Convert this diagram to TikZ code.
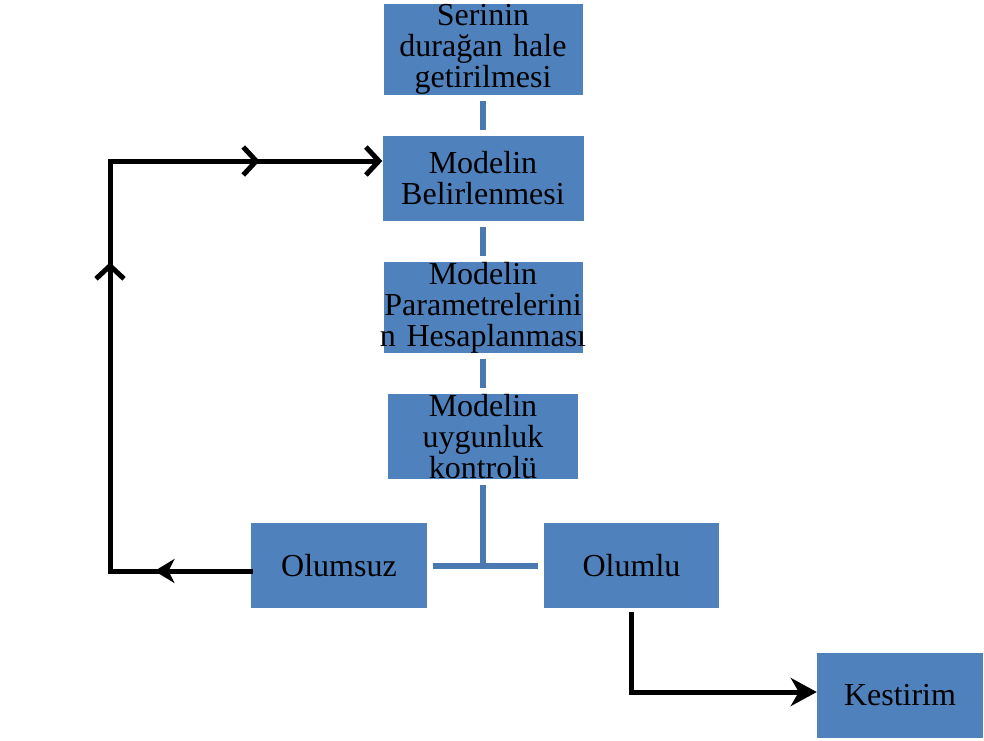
\documentclass[tikz,border=0pt]{standalone}
\usepackage{fontspec}
\setmainfont{Liberation Serif}
\usetikzlibrary{positioning,arrows.meta,calc,decorations.markings}
\definecolor{boxblue}{HTML}{4F81BD}
\definecolor{linkblue}{HTML}{4A78B0}

\tikzset{barb/.tip={Straight Barb[length=13pt,width=28pt]}}

\begin{document}
\begin{tikzpicture}[x=1pt,y=-1pt,
    stepbox/.style={fill=boxblue, inner sep=0pt, align=center, minimum height=85pt,
      font=\fontsize{32}{31}\selectfont},
    link/.style={linkblue, line width=6pt, shorten <=6pt, shorten >=6pt},
    loopline/.style={line width=5pt, line cap=rect, line join=miter}]
  \useasboundingbox (0,0) rectangle (984,740);

  % main chain
  \node[stepbox, text width=199pt] (seri) at (483,49.5) {Serinin\\durağan hale\\getirilmesi};
  \node[stepbox, text width=201pt] (model) at (483,178.5) {Modelin\\Belirlenmesi};
  \node[stepbox, text width=199pt] (param) at (483,307.5)
    {Modelin\\\makebox[\linewidth]{Parametrelerini}\\\makebox[\linewidth]{n Hesaplanması}};
  \node[stepbox, text width=190pt] (kontrol) at (483,436.5) {Modelin\\uygunluk\\kontrolü};
  \node[stepbox, text width=176pt] (olumsuz) at (339,565.5) {Olumsuz};
  \node[stepbox, text width=175pt] (olumlu) at (631.5,565.5) {Olumlu};
  \node[stepbox, text width=166pt] (kestirim) at (900,695.5) {Kestirim};

  \draw[link] (seri) -- (model);
  \draw[link] (model) -- (param);
  \draw[link] (param) -- (kontrol);
  \coordinate (split) at (483,568);
  \draw[link, shorten >=0pt] (kontrol) -- (split);
  \draw[link] (olumsuz) -- (olumlu);

  % back loop
  \coordinate (bot) at (110,571);
  \coordinate (top) at (110,161);
  \draw[loopline, -{barb}, postaction={decorate}, decoration={markings,
      mark=at position 0.117 with {\arrow{Stealth[length=20pt,width=24pt,inset=6pt]}},
      mark=at position 0.546 with {\arrow{barb}},
      mark=at position 0.851 with {\arrow{barb}}}]
    (olumsuz.west |- bot) -- (bot) -- (top) -- (model.west |- top);

  % forward
  \coordinate (knee) at (631.5,692);
  \draw[loopline, -{Stealth[length=26pt,width=28pt,inset=8pt]}]
    ($(olumlu.south)+(0,6)$) -- (knee) -- (kestirim.west |- knee);
\end{tikzpicture}
\end{document}
